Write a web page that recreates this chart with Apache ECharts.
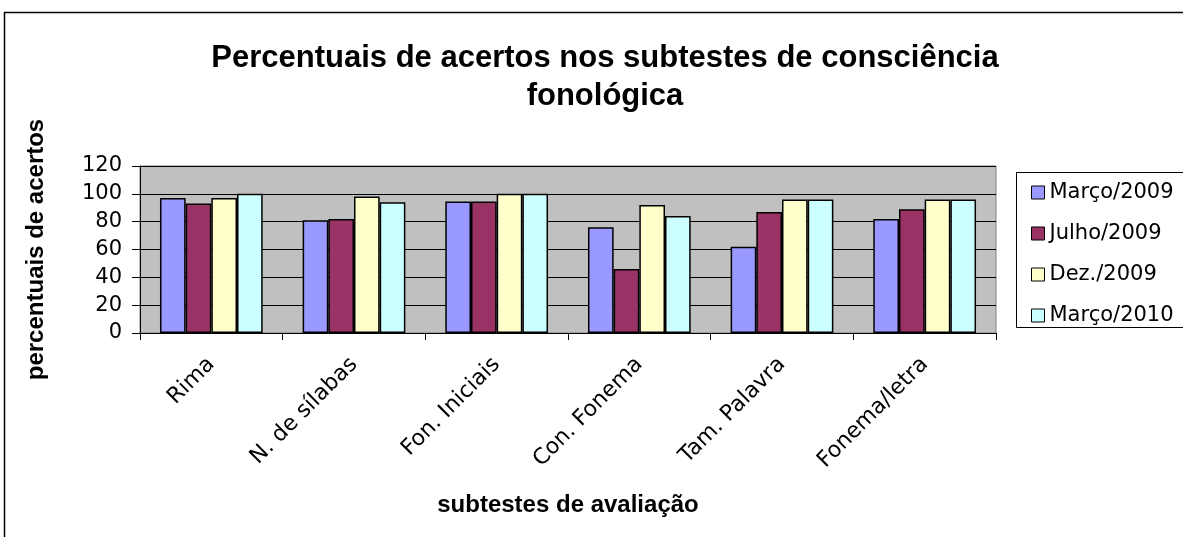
<!DOCTYPE html>
<html>
<head>
<meta charset="utf-8">
<script src="https://cdn.jsdelivr.net/npm/echarts@6/dist/echarts.min.js"></script>
<style>
  html, body { margin: 0; padding: 0; background: #fff; }
  #chart { width: 1183px; height: 537px; }
</style>
</head>
<body>
<div id="chart"></div>
<script>
  // categorias e valores
  var categories = ['Rima', 'N. de sílabas', 'Fon. Iniciais', 'Con. Fonema', 'Tam. Palavra', 'Fonema/letra'];
  var seriesNames = ['Março/2009', 'Julho/2009', 'Dez./2009', 'Março/2010'];
  var marco2009 = [97, 81, 94.5, 76, 62, 82];
  var julho2009 = [93, 82, 94.5, 46, 87, 89];
  var dez2009 = [97, 98, 100, 92, 96, 96];
  var marco2010 = [100, 94, 100, 84, 96, 96];
  var yTicks = [0, 20, 40, 60, 80, 100, 120];

  var colors = ['#9999FF', '#993366', '#FFFFCC', '#CCFFFF'];
  var values = [marco2009, julho2009, dez2009, marco2010];

  var chart = echarts.init(document.getElementById('chart'));
  var boldFont = 'Liberation Sans, Arial, sans-serif';
  var font = 'DejaVu Sans, sans-serif';

  var series = seriesNames.map(function (name, i) {
    return {
      name: name,
      type: 'bar',
      data: values[i],
      barGap: '0%',
      barCategoryGap: '28%',
      itemStyle: { color: colors[i], borderColor: '#000', borderWidth: 1.5 },
      emphasis: { disabled: true }
    };
  });

  var option = {
    animation: false,
    textStyle: { fontFamily: font },
    title: {
      text: 'Percentuais de acertos nos subtestes de consciência\nfonológica',
      left: 600,
      textAlign: 'center',
      top: 34,
      textStyle: { fontSize: 31, fontWeight: 'bold', color: '#000', lineHeight: 38, fontFamily: boldFont }
    },
    legend: {
      orient: 'vertical',
      left: 1026,
      top: 177,
      itemWidth: 13,
      itemHeight: 13,
      itemGap: 20,
      icon: 'rect',
      itemStyle: { borderColor: '#000', borderWidth: 1 },
      textStyle: { fontSize: 21, color: '#000', fontFamily: font },
      data: seriesNames
    },
    grid: { left: 140, right: 187, top: 166, bottom: 204, show: true, backgroundColor: '#C0C0C0', borderColor: '#808080', borderWidth: 1 },
    xAxis: {
      type: 'category',
      data: categories,
      name: 'subtestes de avaliação',
      nameLocation: 'middle',
      nameGap: 160,
      nameTextStyle: { fontSize: 24, fontWeight: 'bold', color: '#000', fontFamily: boldFont },
      axisLine: { lineStyle: { color: '#000', width: 1 } },
      axisTick: { show: true, length: 7, lineStyle: { color: '#000' } },
      axisLabel: { rotate: 45, fontSize: 22, color: '#000', margin: 28, interval: 0, fontFamily: font }
    },
    yAxis: {
      type: 'value',
      min: yTicks[0],
      max: yTicks[yTicks.length - 1],
      interval: 20,
      name: 'percentuais de acertos',
      nameLocation: 'middle',
      nameGap: 92,
      nameRotate: 90,
      nameTextStyle: { fontSize: 24, fontWeight: 'bold', color: '#000', fontFamily: boldFont },
      axisLine: { show: true, lineStyle: { color: '#000', width: 1 } },
      axisTick: { show: true, length: 8, lineStyle: { color: '#000' } },
      axisLabel: { fontSize: 21, color: '#000', margin: 18, fontFamily: font },
      splitLine: { lineStyle: { color: '#000', width: 1 } }
    },
    graphic: [
      { type: 'rect', shape: { x: 4.5, y: 12.5, width: 1200, height: 600 }, style: { fill: 'none', stroke: '#000', lineWidth: 1.5 }, silent: true, z: -10 },
      { type: 'rect', shape: { x: 1016.5, y: 172.5, width: 200, height: 155 }, style: { fill: '#fff', stroke: '#000', lineWidth: 1 }, silent: true, z: -5 }
    ],
    series: series
  };

  chart.setOption(option);
</script>
</body>
</html>
